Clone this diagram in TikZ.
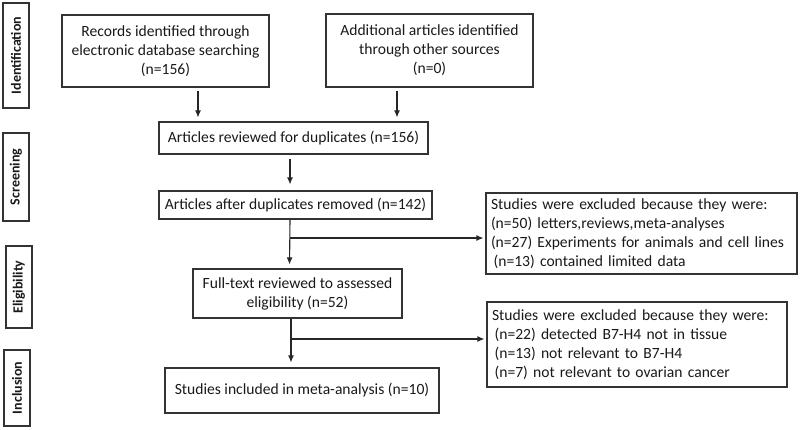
\documentclass[tikz,border=0pt]{standalone}
\usepackage{fontspec}
\setmainfont{Carlito}
\usetikzlibrary{arrows.meta}
\begin{document}
\begin{tikzpicture}[x=1pt,y=1pt,font=\fontsize{15.6}{19}\selectfont,text=black!90]
% Three styles: flow box, stage box and flow arrow
\tikzstyle{flow box}=[draw=black!80,line width=1.1pt,inner sep=3pt,align=center];
\tikzstyle{list box}=[draw=black!80,line width=1.1pt,inner xsep=5pt,inner ysep=2pt,align=left];
\tikzstyle{stage box}=[draw=black!80,line width=1.1pt,rotate=90,minimum height=26,font=\fontsize{14}{15}\selectfont\bfseries];
\tikzstyle{flow arrow}=[draw=black!85,line width=1.1pt,-{Latex[length=7pt,width=6pt]}];
\useasboundingbox(0,0)rectangle(800,-429);
% Stages
\node(s0)[stage box,minimum width=105]at(16,-55.5){Identification};
\node(s1)[stage box,minimum width=88]at(16,-177){Screening};
\node(s2)[stage box,minimum width=82]at(19,-287){Eligibility};
\node(s3)[stage box,minimum width=76]at(17,-388){Inclusion};
% The flow
\node(rec)[flow box,minimum width=207,minimum height=72]at(165.5,-51){Records identified through\\electronic database searching\\(n=156)};
\node(add)[flow box,minimum width=207,minimum height=73]at(429.5,-50.5){Additional articles identified\\through other sources\\(n=0)};
\node(dup)[flow box,minimum width=269,minimum height=32]at(293.5,-138){Articles reviewed for duplicates (n=156)};
\node(rem)[flow box,minimum width=273,minimum height=28]at(295.5,-205){Articles after duplicates removed (n=142)};
\node(full)[flow box,minimum width=209,minimum height=49]at(297.5,-293.5){Full-text reviewed to assessed\\eligibility (n=52)};
\node(inc)[flow box,minimum width=274,minimum height=45]at(302,-390.5){Studies included in meta-analysis (n=10)};
% Exclusions
\node(ex1)[list box,text width=301,minimum height=81]at(641.5,-233.5){Studies were excluded because they were:\\(n=50) letters,reviews,meta-analyses\\(n=27) Experiments for animals and cell lines\\\,(n=13) contained limited data};
\node(ex2)[list box,text width=290,minimum height=85]at(637,-344.5){Studies were excluded because they were:\\\,(n=22) detected B7-H4 not in tissue\\\,(n=13) not relevant to B7-H4\\\,(n=7) not relevant to ovarian cancer};
% Arrows
\coordinate(a1)at([xshift=32.5,yshift=-3]rec.south);
\coordinate(a2)at([xshift=-32.5,yshift=-3]add.south);
\coordinate(a3)at([xshift=-3.5,yshift=-4]dup.south);
\coordinate(j1)at(290,-238);
\coordinate(j2)at(291,-339);
\draw[flow arrow,shorten >=4pt](a1)--(a1|-dup.north);
\draw[flow arrow,shorten >=4pt](a2)--(a2|-dup.north);
\draw[flow arrow,shorten >=6pt](a3)--(a3|-rem.north);
\draw[flow arrow,shorten >=4pt]([xshift=-5.5]rem.south)--([xshift=-8]full.north);
\draw[flow arrow,shorten >=5pt]([xshift=-6.5]full.south)--([xshift=-11]inc.north);
\draw[flow arrow,shorten >=2pt](j1)--(j1-|ex1.west);
\draw[flow arrow,shorten >=2pt](j2)--(j2-|ex2.west);
\end{tikzpicture}
\end{document}
